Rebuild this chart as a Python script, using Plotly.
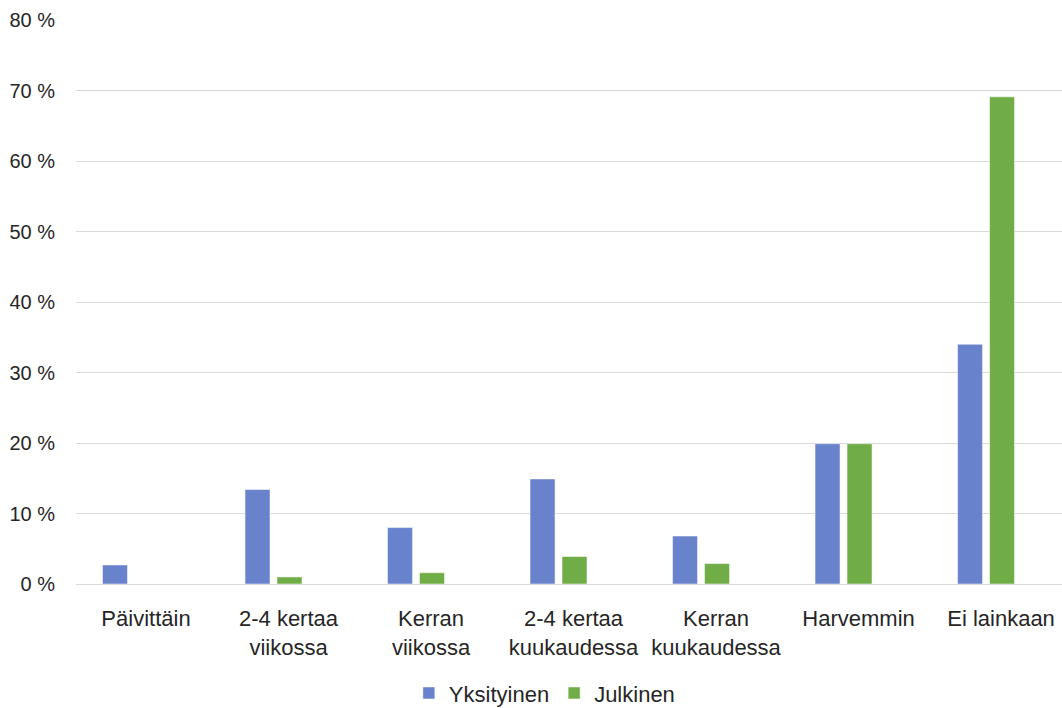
import plotly.graph_objects as go

categories = ["Päivittäin", "2-4 kertaa<br>viikossa", "Kerran<br>viikossa",
              "2-4 kertaa<br>kuukaudessa", "Kerran<br>kuukaudessa", "Harvemmin", "Ei lainkaan"]
yksityinen = [2.7, 13.4, 8.0, 14.9, 6.8, 19.9, 34.0]
julkinen = [0.0, 1.0, 1.6, 3.9, 2.9, 19.9, 69.1]
y_ticks = [0, 10, 20, 30, 40, 50, 60, 70, 80]
y_tick_labels = [f"{v} %" for v in y_ticks]

font_family = "Liberation Sans, Arial, sans-serif"
text_color = "#262626"

fig = go.Figure()
fig.add_trace(go.Bar(name="Yksityinen", x=categories, y=yksityinen,
                     marker=dict(color="#6882CB", line=dict(color="rgba(255,255,255,0.5)", width=1))))
fig.add_trace(go.Bar(name="Julkinen", x=categories, y=julkinen,
                     marker=dict(color="#70AD47", line=dict(color="rgba(255,255,255,0.5)", width=1))))

fig.update_layout(
    width=1062, height=708,
    margin=dict(l=76, r=0, t=20, b=124, autoexpand=False),
    paper_bgcolor="white", plot_bgcolor="white",
    barmode="group", bargap=0.551, bargroupgap=0.219,
    font=dict(family=font_family, color=text_color, size=22),
    legend=dict(orientation="h", x=0.475, xanchor="center",
                yref="container", y=0.021, yanchor="middle",
                font=dict(size=22, color=text_color), itemwidth=30, traceorder="normal"),
    xaxis=dict(type="category", range=[-0.386, 6.533], showgrid=False, automargin=False,
               showline=True, linecolor="#D9D9D9", linewidth=1,
               ticks="", ticklabelstandoff=15, ticklabelshift=15,
               tickfont=dict(size=22, color=text_color)),
    yaxis=dict(range=[0, 80], tickvals=y_ticks, ticktext=y_tick_labels, automargin=False,
               showgrid=True, gridcolor="#D9D9D9", gridwidth=1,
               zeroline=False, showline=False, ticks="", ticklabelstandoff=20,
               tickfont=dict(size=20, color=text_color)),
)

fig.write_html("out.html",
               config={"displayModeBar": False},
               post_script="document.body.style.margin='0px';"
                           "document.documentElement.style.overflow='hidden';"
                           "document.body.style.overflow='hidden';")
